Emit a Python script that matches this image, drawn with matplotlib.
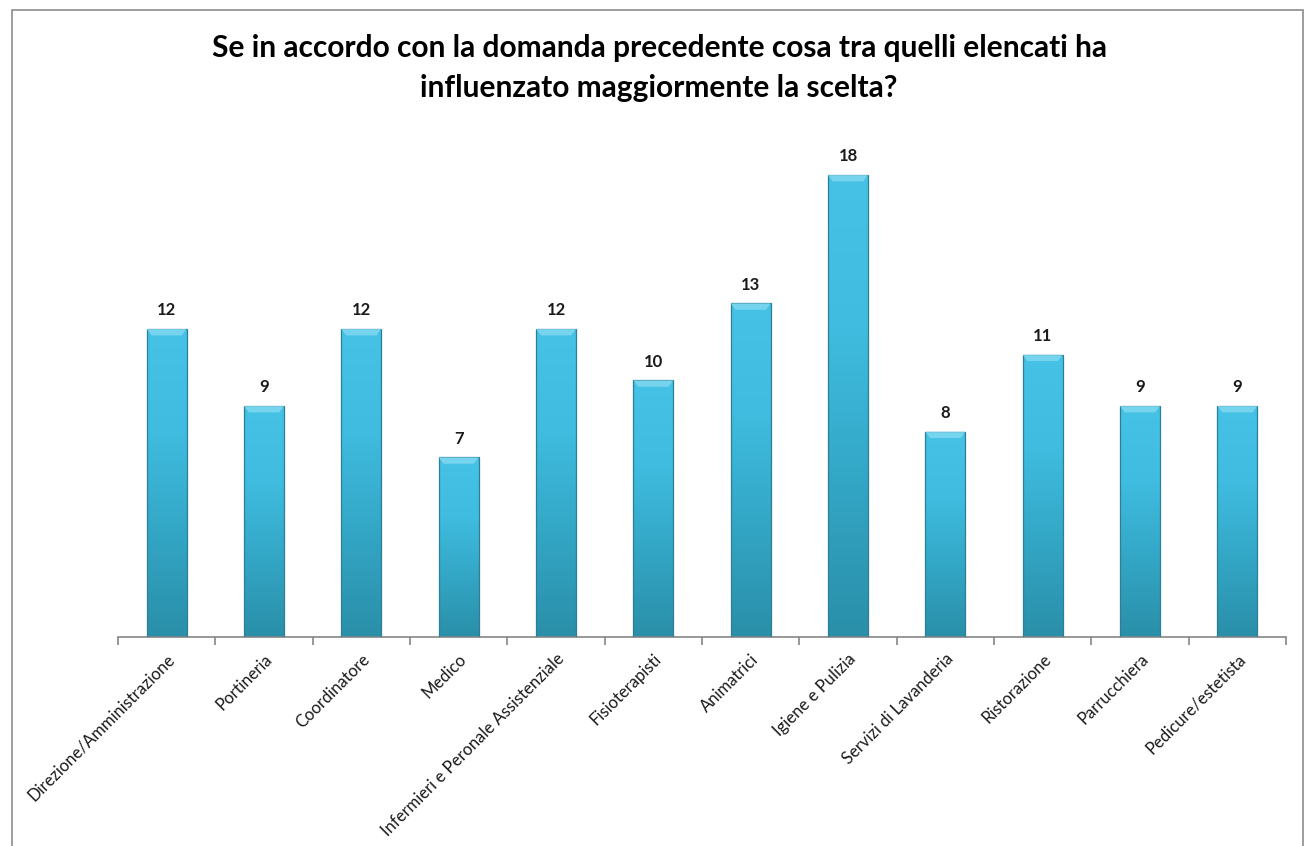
import numpy as np
import matplotlib
matplotlib.use("Agg")
import matplotlib.pyplot as plt
from matplotlib.patches import Rectangle, Polygon
from matplotlib.colors import LinearSegmentedColormap

categories = [
    "Direzione/Amministrazione", "Portineria", "Coordinatore", "Medico",
    "Infermieri e Peronale Assistenziale", "Fisioterapisti", "Animatrici",
    "Igiene e Pulizia", "Servizi di Lavanderia", "Ristorazione",
    "Parrucchiera", "Pedicure/estetista",
]
values = [12, 9, 12, 7, 12, 10, 13, 18, 8, 11, 9, 9]
title = ("Se in accordo con la domanda precedente cosa tra quelli elencati ha\n"
         "influenzato maggiormente la scelta?")

plt.rcParams["font.family"] = ["Lato", "DejaVu Sans"]

fig = plt.figure(figsize=(13.07, 8.46), dpi=100)
fig.patch.set_facecolor("white")

# outer frame
fig.add_artist(Rectangle((12 / 1307, -0.01), (1303 - 12) / 1307, 1 - 10 / 846 + 0.01,
                         transform=fig.transFigure, fill=False,
                         edgecolor="#8c8c8c", linewidth=1.2))

ax = fig.add_axes([118 / 1307, 1 - 637 / 846, (1286 - 118) / 1307, (637 - 123.7) / 846])
x = np.arange(len(categories))
bars = ax.bar(x, values, width=0.41, color="none", edgecolor="none", zorder=2)

grad_cmap = LinearSegmentedColormap.from_list(
    "bar", ["#2a8fa9", "#33a6c5", "#3fbcdf", "#45c2e5"])
grad = np.linspace(0, 1, 256).reshape(-1, 1)

for b, v in zip(bars, values):
    x0, w, h = b.get_x(), b.get_width(), b.get_height()
    im = ax.imshow(grad, cmap=grad_cmap, origin="lower", aspect="auto",
                   extent=[x0, x0 + w, 0, h], zorder=2, interpolation="bicubic")
    im.set_clip_path(b)
    # dark outline on the bar
    ax.add_patch(Rectangle((x0, 0), w, h, fill=False, edgecolor="#2b7f96",
                           linewidth=0.9, zorder=3))
    # bevelled top edge
    dy = 0.25
    ax.add_patch(Polygon([(x0, h), (x0 + w, h), (x0 + w - w * 0.12, h - dy),
                          (x0 + w * 0.12, h - dy)], closed=True,
                         facecolor="#7fd8f0", edgecolor="none", zorder=3, alpha=0.85))
    ax.text(x0 + w / 2, h + 0.42, str(v), ha="center", va="bottom",
            fontsize=12, fontweight="bold", color="#1a1a1a")

ax.set_xlim(-0.5, len(categories) - 0.5)
ax.set_ylim(0, 20)
for s in ["top", "right", "left"]:
    ax.spines[s].set_visible(False)
ax.spines["bottom"].set_color("#868686")
ax.spines["bottom"].set_linewidth(1.2)
ax.set_yticks([])

ax.set_xticks(np.arange(len(categories) + 1) - 0.5, minor=True)
ax.tick_params(axis="x", which="minor", length=6, color="#868686", width=1.2)
ax.set_xticks(x)
ax.tick_params(axis="x", which="major", length=0, pad=10)
ax.set_xticklabels(categories, rotation=45, ha="right", rotation_mode="anchor",
                   fontsize=12, color="#1a1a1a")

fig.text(659 / 1307, 1 - 68 / 846, title, ha="center", va="center",
         fontsize=21.5, fontweight="bold", color="#000000", linespacing=1.55)

fig.savefig("out.png", dpi=100, facecolor="white")
